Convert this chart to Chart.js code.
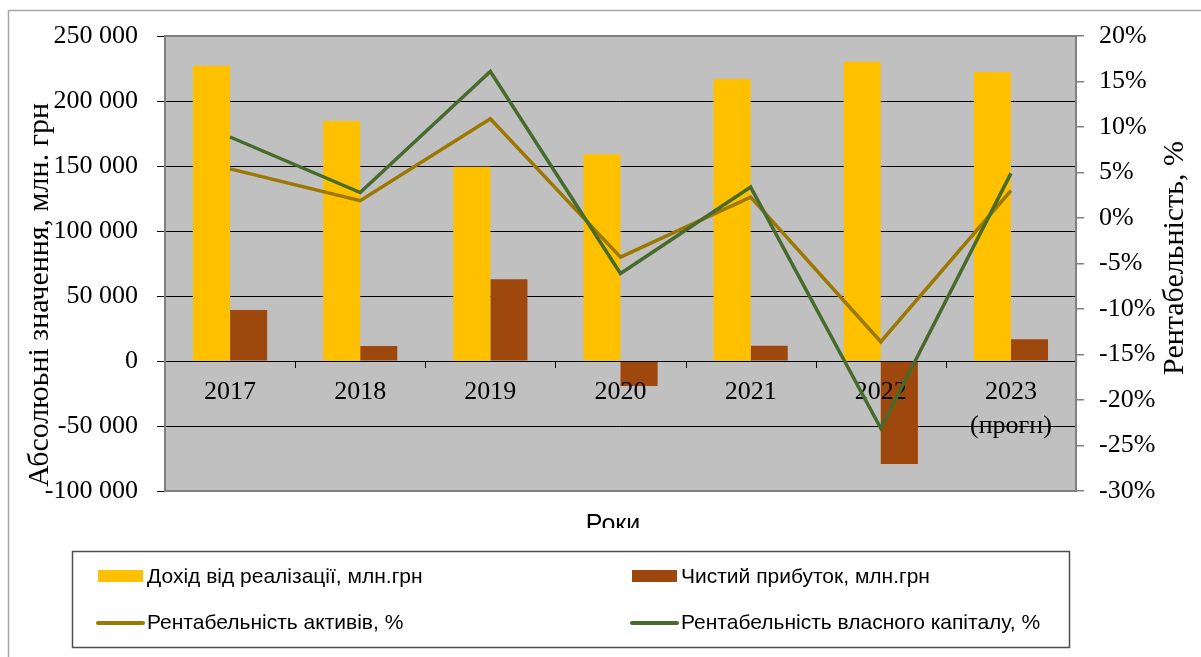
<!DOCTYPE html>
<html>
<head>
<meta charset="utf-8">
<script src="https://cdn.jsdelivr.net/npm/chart.js@4.4.0/dist/chart.umd.min.js"></script>
<style>
  html, body { margin: 0; padding: 0; background: #fff; }
  #wrap { position: relative; width: 1201px; height: 657px; }
</style>
</head>
<body>
<div id="wrap"><canvas id="finChart" width="1201" height="657"></canvas></div>
<script>
// --- data ---
const years = ['2017', '2018', '2019', '2020', '2021', '2022', '2023'];
const yearNotes = ['', '', '', '', '', '', '(прогн)'];
const revenue = [227200, 184600, 149500, 159000, 216900, 230200, 222300];   // млн.грн
const netProfit = [39200, 11500, 62800, -19200, 11800, -79200, 16700];      // млн.грн
const roa = [5.4, 1.9, 10.9, -4.3, 2.3, -13.6, 3.0];                         // %
const roe = [8.9, 2.8, 16.1, -6.1, 3.4, -23.1, 4.9];                         // %
const leftTicks = [-100000, -50000, 0, 50000, 100000, 150000, 200000, 250000];
const rightTicks = [-30, -25, -20, -15, -10, -5, 0, 5, 10, 15, 20];

const serif = '"Liberation Serif", "Times New Roman", serif';
const sans = '"Liberation Sans", Arial, sans-serif';

const fmtThousands = v => String(v).replace(/\B(?=(\d{3})+(?!\d))/g, ' ');

// background, borders, category labels, axis titles, legend
const decor = {
  id: 'decor',
  beforeDraw(chart) {
    const { ctx, chartArea: a } = chart;
    ctx.save();
    ctx.fillStyle = '#fff';
    ctx.fillRect(0, 0, chart.width, chart.height);
    // outer frame
    ctx.strokeStyle = '#a6a6a6';
    ctx.lineWidth = 1.5;
    ctx.beginPath();
    ctx.moveTo(8.5, chart.height);
    ctx.lineTo(8.5, 10.5);
    ctx.lineTo(chart.width, 10.5);
    ctx.stroke();
    // plot area
    ctx.fillStyle = '#c0c0c0';
    ctx.fillRect(a.left, a.top, a.right - a.left, a.bottom - a.top);
    ctx.restore();
  },
  afterDatasetDraw(chart, args) {
    // bars are drawn profit then revenue; labels go above both, under the lines
    if (args.index !== 0) return;
    const { ctx } = chart;
    const x = chart.scales.x, y = chart.scales.y;
    const zeroY = y.getPixelForValue(0);
    ctx.save();
    ctx.fillStyle = '#000';
    ctx.font = '26px ' + serif;
    ctx.textAlign = 'center';
    ctx.textBaseline = 'middle';
    years.forEach((yr, i) => {
      const px = x.getPixelForValue(i);
      ctx.fillText(yr, px, zeroY + 31);
      if (yearNotes[i]) ctx.fillText(yearNotes[i], px, zeroY + 65);
    });
    // category tick marks on the zero line
    ctx.strokeStyle = '#000';
    ctx.lineWidth = 1;
    for (let i = 1; i < years.length; i++) {
      const bx = Math.round((x.getPixelForValue(i - 1) + x.getPixelForValue(i)) / 2) + 0.5;
      ctx.beginPath();
      ctx.moveTo(bx, zeroY);
      ctx.lineTo(bx, zeroY + 7);
      ctx.stroke();
    }
    ctx.beginPath();
    ctx.moveTo(x.left, Math.round(zeroY) + 0.5);
    ctx.lineTo(x.right, Math.round(zeroY) + 0.5);
    ctx.stroke();
    ctx.restore();
  },
  afterDraw(chart) {
    const { ctx, chartArea: a } = chart;
    ctx.save();
    // plot frame
    ctx.strokeStyle = '#808080';
    ctx.lineWidth = 2;
    ctx.strokeRect(a.left, a.top, a.right - a.left, a.bottom - a.top);

    // axis titles
    ctx.fillStyle = '#000';
    ctx.font = '30px ' + serif;
    ctx.textAlign = 'center';
    ctx.textBaseline = 'middle';
    ctx.save();
    ctx.translate(40, 295);
    ctx.rotate(-Math.PI / 2);
    ctx.fillText('Абсолюьні значення, млн. грн', 0, 0);
    ctx.restore();
    ctx.save();
    ctx.translate(1175, 258);
    ctx.rotate(-Math.PI / 2);
    ctx.fillText('Рентабельність, %', 0, 0);
    ctx.restore();

    // x title, clipped at the bottom as in the original
    ctx.save();
    ctx.beginPath();
    ctx.rect(0, 495, chart.width, 33);
    ctx.clip();
    ctx.font = '25px ' + sans;
    ctx.textBaseline = 'alphabetic';
    ctx.fillText('Роки', 613, 532);
    ctx.restore();

    // legend box
    ctx.strokeStyle = '#4d4d4d';
    ctx.lineWidth = 1.5;
    ctx.strokeRect(72.5, 551.5, 997, 96);
    const ds = chart.data.datasets;
    const slots = [
      { d: ds[0], x: 98, y: 577, kind: 'box' },
      { d: ds[1], x: 632, y: 577, kind: 'box' },
      { d: ds[2], x: 98, y: 623, kind: 'line' },
      { d: ds[3], x: 632, y: 623, kind: 'line' }
    ];
    ctx.font = '21px ' + sans;
    ctx.textAlign = 'left';
    ctx.textBaseline = 'middle';
    slots.forEach(s => {
      if (s.kind === 'box') {
        ctx.fillStyle = s.d.backgroundColor;
        ctx.fillRect(s.x, s.y - 7, 45, 12);
      } else {
        ctx.strokeStyle = s.d.borderColor;
        ctx.lineWidth = 4;
        ctx.lineCap = 'round';
        ctx.beginPath();
        ctx.moveTo(s.x, s.y);
        ctx.lineTo(s.x + 45, s.y);
        ctx.stroke();
      }
      ctx.fillStyle = '#000';
      ctx.fillText(s.d.label, s.x + 49, s.y);
    });
    ctx.restore();
  }
};

new Chart('finChart', {
  type: 'bar',
  data: {
    labels: years,
    datasets: [
      {
        label: 'Дохід від реалізації, млн.грн',
        data: revenue,
        backgroundColor: '#ffc000',
        borderWidth: 0,
        yAxisID: 'y',
        order: 2,
        categoryPercentage: 0.57,
        barPercentage: 1
      },
      {
        label: 'Чистий прибуток, млн.грн',
        data: netProfit,
        backgroundColor: '#9e480e',
        borderWidth: 0,
        yAxisID: 'y',
        order: 2,
        categoryPercentage: 0.57,
        barPercentage: 1
      },
      {
        type: 'line',
        label: 'Рентабельність активів, %',
        data: roa,
        borderColor: '#9c7800',
        borderWidth: 3.5,
        pointRadius: 0,
        tension: 0,
        fill: false,
        yAxisID: 'y1',
        order: 1
      },
      {
        type: 'line',
        label: 'Рентабельність власного капіталу, %',
        data: roe,
        borderColor: '#476b2c',
        borderWidth: 3.5,
        pointRadius: 0,
        tension: 0,
        fill: false,
        yAxisID: 'y1',
        order: 0
      }
    ]
  },
  options: {
    responsive: false,
    animation: false,
    devicePixelRatio: 1,
    layout: { padding: { top: 36, bottom: 166, left: 0, right: 0 } },
    plugins: {
      legend: { display: false },
      tooltip: { enabled: false }
    },
    scales: {
      x: { display: false, offset: true },
      y: {
        position: 'left',
        min: leftTicks[0],
        max: leftTicks[leftTicks.length - 1],
        afterBuildTicks: s => { s.ticks = leftTicks.map(v => ({ value: v })); },
        afterFit: s => { s.width = 165; },
        ticks: {
          color: '#000',
          font: { family: serif, size: 26 },
          padding: 19,
          callback: v => fmtThousands(v)
        },
        grid: { color: '#000', lineWidth: 1, tickLength: 8, tickColor: '#000' },
        border: { display: false }
      },
      y1: {
        position: 'right',
        min: rightTicks[0],
        max: rightTicks[rightTicks.length - 1],
        afterBuildTicks: s => { s.ticks = rightTicks.map(v => ({ value: v })); },
        afterFit: s => { s.width = 125; },
        ticks: {
          color: '#000',
          font: { family: serif, size: 26 },
          padding: 15,
          callback: v => v + '%'
        },
        grid: { drawOnChartArea: false, tickLength: 8, tickColor: '#808080', lineWidth: 1.5 },
        border: { display: false }
      }
    }
  },
  plugins: [decor]
});
</script>
</body>
</html>
